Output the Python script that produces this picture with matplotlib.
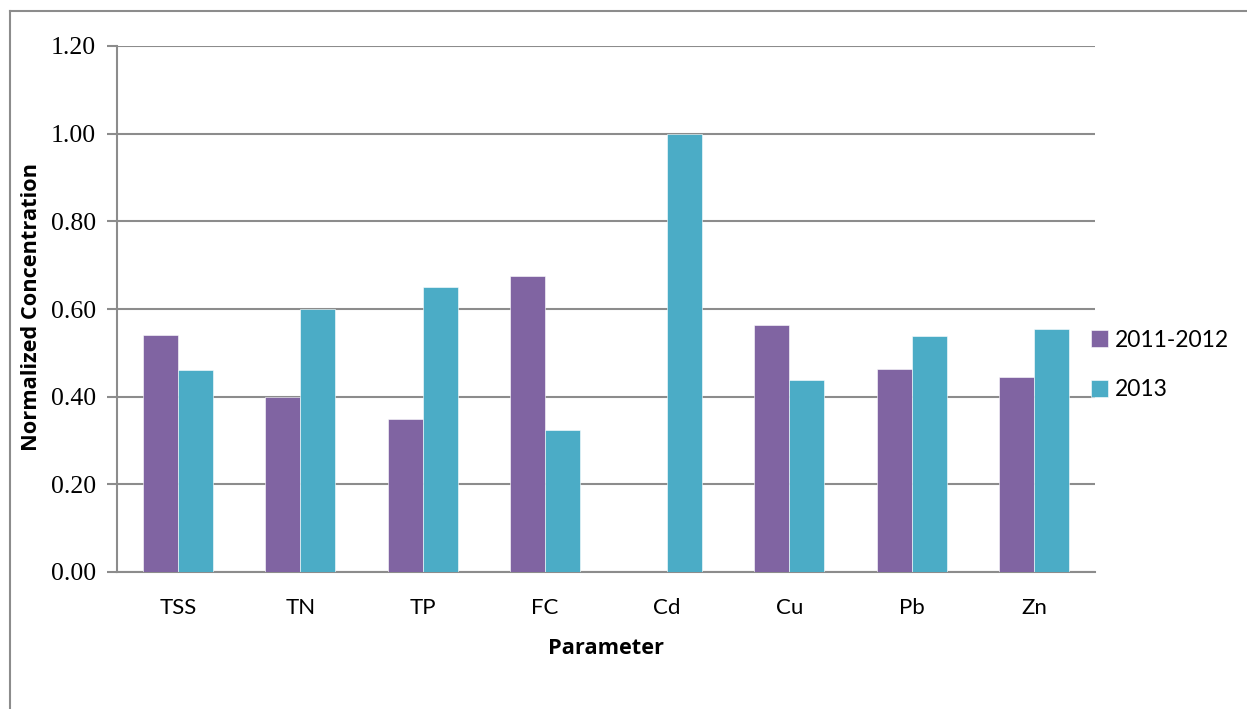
import matplotlib
matplotlib.use("Agg")
import matplotlib.pyplot as plt
from matplotlib.lines import Line2D
import numpy as np

# Normalized concentrations per parameter and monitoring period
parameters = ["TSS", "TN", "TP", "FC", "Cd", "Cu", "Pb", "Zn"]
period_2011_2012 = [0.54, 0.40, 0.349, 0.675, 0.0, 0.563, 0.462, 0.445]
period_2013 = [0.46, 0.60, 0.651, 0.325, 1.0, 0.437, 0.538, 0.555]
series_labels = ["2011-2012", "2013"]
y_ticks = [0.0, 0.2, 0.4, 0.6, 0.8, 1.0, 1.2]

purple = "#8064A2"
cyan = "#4BACC6"
grid_gray = "#8C8C8C"

fig = plt.figure(figsize=(12.47, 7.09), dpi=100)
ax = fig.add_axes([117 / 1247, 1 - 572 / 709, (1095 - 117) / 1247, (572 - 46) / 709])

x = np.arange(len(parameters))
w = 0.286
ax.bar(x - w / 2, period_2011_2012, width=w, color=purple, edgecolor="white",
       linewidth=0.4, label=series_labels[0], zorder=3)
ax.bar(x + w / 2, period_2013, width=w, color=cyan, edgecolor="white",
       linewidth=0.4, label=series_labels[1], zorder=3)

ax.set_xlim(-0.5, len(parameters) - 0.5)
ax.set_ylim(0, 1.2)
ax.set_yticks(y_ticks)
ax.set_yticklabels([f"{v:.2f}" for v in y_ticks], family="Liberation Serif", fontsize=18.5)
ax.set_xticks(x)
ax.set_xticklabels(parameters, family="Lato", fontsize=16)
ax.tick_params(axis="x", length=0, pad=19)
ax.tick_params(axis="y", length=7, width=1.5, color=grid_gray, pad=8)

ax.yaxis.grid(True, color=grid_gray, linewidth=1.5, zorder=0)
ax.set_axisbelow(True)
for side in ["top", "right"]:
    ax.spines[side].set_visible(False)
for side in ["left", "bottom"]:
    ax.spines[side].set_color(grid_gray)
    ax.spines[side].set_linewidth(1.5)

ax.set_ylabel("Normalized Concentration", family="Open Sans", fontsize=15.7,
              fontweight="bold")
ax.set_xlabel("Parameter", family="Open Sans", fontsize=15.7, fontweight="bold",
              labelpad=14)
ax.yaxis.set_label_coords(-0.0767, 0.503)

leg = fig.legend(loc="upper left", bbox_to_anchor=(1070 / 1247, 1 - 309 / 709),
                 frameon=False, handlelength=0.75, handleheight=0.75,
                 handletextpad=0.3, labelspacing=1.25,
                 prop={"family": "Lato", "size": 16.5})

# Outer frame lines (left and top edges)
fig.add_artist(Line2D([10 / 1247, 10 / 1247], [0, 1 - 11 / 709],
                      transform=fig.transFigure, color="#8C8C8C", linewidth=1.5))
fig.add_artist(Line2D([10 / 1247, 1], [1 - 11 / 709, 1 - 11 / 709],
                      transform=fig.transFigure, color="#8C8C8C", linewidth=1.5))

fig.savefig("out.png", dpi=100)
